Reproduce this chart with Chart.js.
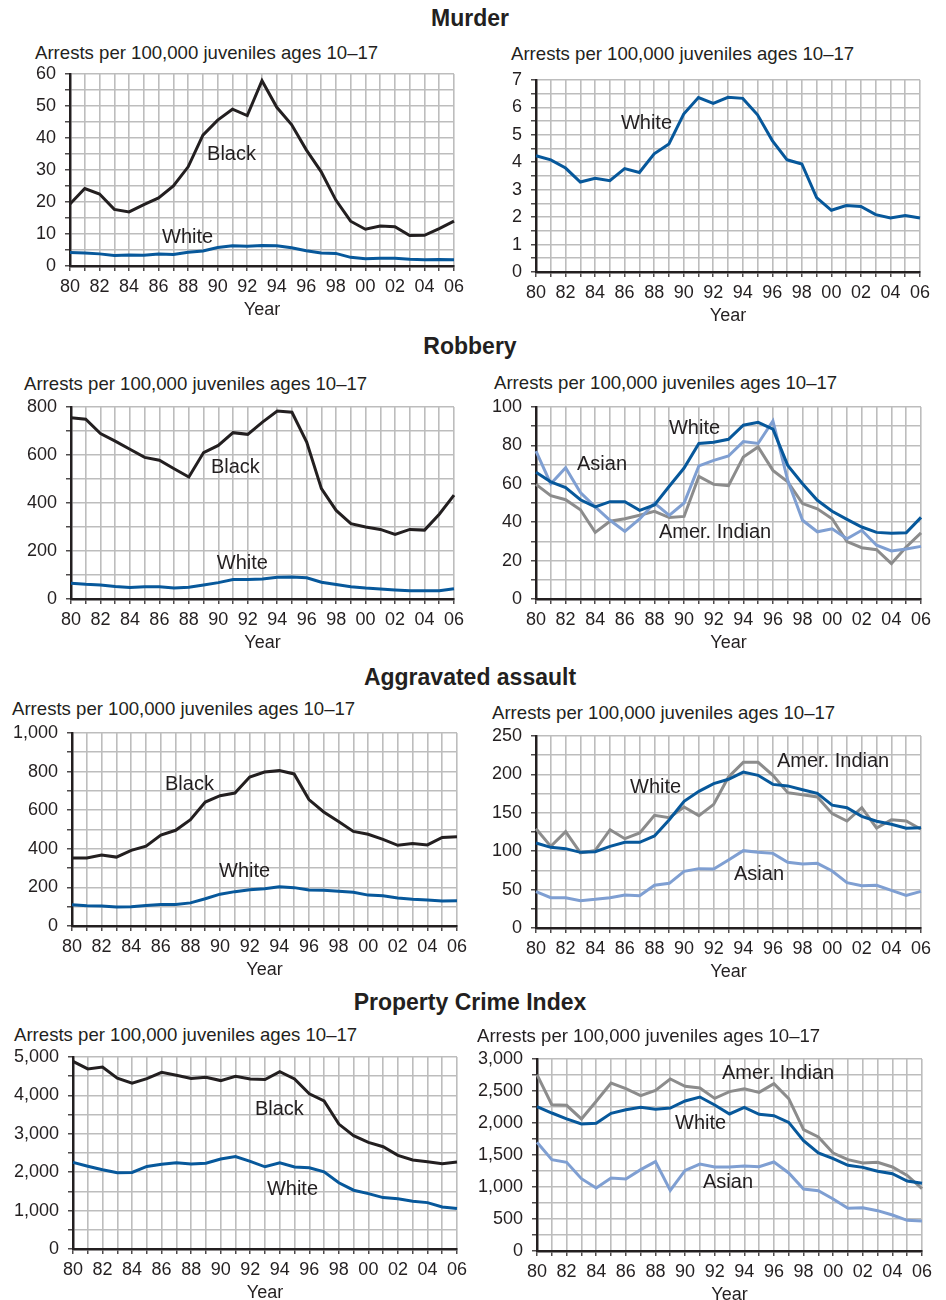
<!DOCTYPE html>
<html>
<head>
<meta charset="utf-8">
<script src="https://cdn.jsdelivr.net/npm/chart.js@4.4.0/dist/chart.umd.min.js"></script>
<style>
  body { margin: 0; background: #fff; }
  #page { position: relative; width: 946px; height: 1300px; font-family: "Liberation Sans", Arial, sans-serif; color: #231f20; }
  .section { position: absolute; left: 0; width: 940px; text-align: center; font-weight: bold; font-size: 23px; line-height: 23px; }
  .ytitle { position: absolute; font-size: 18.6px; line-height: 18px; white-space: nowrap; }
  canvas { position: absolute; }
</style>
</head>
<body>
<div id="page">
  <div class="section" style="top:7px">Murder</div>
  <div class="section" style="top:335px">Robbery</div>
  <div class="section" style="top:666px">Aggravated assault</div>
  <div class="section" style="top:991px">Property Crime Index</div>
</div>
<script>
// years 1980-2006
const years = ['80', '81', '82', '83', '84', '85', '86', '87', '88', '89', '90', '91', '92', '93',
  '94', '95', '96', '97', '98', '99', '00', '01', '02', '03', '04', '05', '06'];

// arrests per 100,000 juveniles ages 10-17
const murderBlack = [19.4, 24.2, 22.5, 17.7, 16.9, 19.2, 21.3, 25.0, 31.0, 40.9, 45.6, 49.0, 47.0, 57.9, 49.6, 44.2, 36.3, 29.5, 20.6, 14.0, 11.5, 12.5, 12.3, 9.5, 9.6, 11.7, 14.0];
const murderWhite = [4.24, 4.09, 3.79, 3.28, 3.42, 3.33, 3.77, 3.63, 4.31, 4.67, 5.76, 6.36, 6.15, 6.37, 6.33, 5.73, 4.79, 4.09, 3.94, 2.71, 2.25, 2.42, 2.39, 2.09, 1.97, 2.06, 1.97];

const robberyBlack = [755, 749, 689, 658, 624, 590, 578, 543, 508, 610, 640, 693, 686, 737, 783, 778, 654, 460, 369, 314, 300, 290, 269, 290, 287, 353, 433];
const robberyWhite = [66, 61, 58, 51.7, 48, 50.7, 50.7, 46.2, 49, 58.7, 68.2, 81, 81.6, 83.2, 90.5, 92, 88.5, 69.6, 60, 51.4, 45.7, 41.5, 37.5, 34.7, 34.2, 34.5, 42.5];
const robberyAsian = [77, 60, 68.4, 55.4, 48, 41, 35.2, 41.7, 50, 43.6, 50, 69.3, 72.2, 74.5, 82, 81, 92.7, 61.8, 41, 35, 36.6, 31.4, 35.8, 28, 25, 26, 27.4];
const robberyAmerIndian = [59.7, 53.8, 51.7, 46.5, 34.7, 40.5, 41.8, 43.6, 45.7, 42.4, 43, 63.9, 59.7, 59, 74, 79.2, 67, 61, 49.7, 47, 41.8, 29.9, 26.7, 25.7, 18.4, 27.1, 34.4];

const assaultBlack = [352, 352, 368, 357, 392, 414, 471, 496, 551, 642, 675, 689, 772, 798, 805, 788, 655, 591, 541, 490, 475, 449, 418, 427, 420, 459, 463];
const assaultWhite = [110.7, 105, 103.3, 98.5, 99.4, 106.3, 111.5, 111.5, 119.8, 141, 165, 178, 188, 193.6, 203, 198.8, 187, 185, 180, 175.3, 160, 156.7, 145.4, 139, 135, 130, 130.6];
const assaultAsian = [47.3, 39.5, 39.5, 35.6, 37.3, 39.5, 43, 42, 55.6, 58.2, 73.8, 77.3, 76.8, 88.5, 100.7, 98.5, 97.2, 85.5, 83.3, 84.2, 74.2, 59, 55.1, 55.6, 49, 42.5, 47.7];
const assaultAmerIndian = [129.3, 106.3, 125.4, 97.7, 101, 128, 116.3, 123.7, 146.7, 143.7, 157.6, 146.3, 161, 196.6, 215.7, 215.7, 198.8, 176.2, 173.6, 170.6, 148.9, 139.3, 156.7, 130.2, 141, 139.3, 128.5];

const propertyBlack = [4888, 4689, 4740, 4446, 4316, 4438, 4602, 4524, 4438, 4472, 4386, 4498, 4429, 4412, 4619, 4429, 4040, 3858, 3253, 2950, 2777, 2664, 2439, 2318, 2275, 2223, 2266];
const propertyWhite = [2255, 2156, 2063, 1984, 1995, 2151, 2208, 2245, 2214, 2234, 2344, 2406, 2281, 2141, 2245, 2135, 2115, 2010, 1724, 1531, 1443, 1339, 1307, 1245, 1208, 1094, 1057];
const propertyAsian = [1698, 1427, 1385, 1130, 984, 1141, 1125, 1271, 1396, 948, 1260, 1359, 1313, 1313, 1328, 1318, 1391, 1219, 969, 943, 813, 667, 677, 630, 563, 479, 469];
const propertyAmerIndian = [2755, 2286, 2276, 2063, 2339, 2625, 2536, 2427, 2510, 2688, 2573, 2547, 2385, 2490, 2536, 2479, 2615, 2380, 1896, 1781, 1531, 1427, 1375, 1385, 1313, 1182, 974];

const yTitle = 'Arrests per 100,000 juveniles ages 10–17';

const colors = {
  'Black': '#231f20',
  'White': '#07589b',
  'Asian': '#7f9fd2',
  'Amer. Indian': '#8c8c8c',
};

// box = plot area [left, top, right, bottom] in page px, title = [x, top]
const panels = [
  { box: [70, 74, 454, 266], yMax: 60, major: 10, title: [35, 44],
    series: [['Black', murderBlack], ['White', murderWhite]],
    labels: [['Black', 9.28, 35], ['White', 6.23, 8.8]] },
  { box: [536, 80, 920, 272], yMax: 7, major: 1, title: [511, 45],
    series: [['White', murderWhite]],
    labels: [['White', 5.75, 5.43]] },
  { box: [71, 407, 454, 599], yMax: 800, major: 200, title: [24, 375],
    series: [['Black', robberyBlack], ['White', robberyWhite]],
    labels: [['Black', 9.5, 550], ['White', 9.9, 150]] },
  { box: [536, 407, 921, 599], yMax: 100, major: 20, title: [494, 374],
    series: [['White', robberyWhite], ['Asian', robberyAsian], ['Amer. Indian', robberyAmerIndian]],
    labels: [['White', 8.98, 89], ['Asian', 2.77, 69.8], ['Amer. Indian', 8.3, 34.9]] },
  { box: [72, 733, 457, 926], yMax: 1000, major: 200, title: [12, 700],
    series: [['Black', assaultBlack], ['White', assaultWhite]],
    labels: [['Black', 6.28, 731], ['White', 9.93, 285]] },
  { box: [536, 736, 921, 928], yMax: 250, major: 50, title: [492, 704],
    series: [['White', assaultWhite], ['Asian', assaultAsian], ['Amer. Indian', assaultAmerIndian]],
    labels: [['Amer. Indian', 16.27, 217], ['White', 6.35, 183.6], ['Asian', 13.37, 70.3]] },
  { box: [73, 1057, 457, 1249], yMax: 5000, major: 1000, title: [14, 1026],
    series: [['Black', propertyBlack], ['White', propertyWhite]],
    labels: [['Black', 12.32, 3646], ['White', 13.13, 1562]] },
  { box: [537, 1059, 922, 1251], yMax: 3000, major: 500, title: [477, 1027],
    series: [['White', propertyWhite], ['Asian', propertyAsian], ['Amer. Indian', propertyAmerIndian]],
    labels: [['Amer. Indian', 12.49, 2781], ['White', 9.32, 2000], ['Asian', 11.21, 1078]] },
];

Chart.defaults.font.family = '"Liberation Sans", Arial, sans-serif';
Chart.defaults.color = '#231f20';

const YW = 64, PT = 12, PR = 24, XH = 56;
const page = document.getElementById('page');

// inline series names drawn at (year index, value)
const seriesLabels = {
  id: 'seriesLabels',
  afterDatasetsDraw(chart, args, opts) {
    const { ctx, scales: { x, y } } = chart;
    ctx.save();
    ctx.font = '20px "Liberation Sans", Arial, sans-serif';
    ctx.fillStyle = '#231f20';
    ctx.textBaseline = 'middle';
    ctx.textAlign = 'left';
    opts.items.forEach(([text, i, v]) => {
      ctx.fillText(text, x.getPixelForValue(i), y.getPixelForValue(v));
    });
    ctx.restore();
  }
};

panels.forEach((p) => {
  const [l, t, r, b] = p.box;

  const title = document.createElement('div');
  title.className = 'ytitle';
  title.style.left = p.title[0] + 'px';
  title.style.top = p.title[1] + 'px';
  title.textContent = yTitle;
  page.appendChild(title);

  const canvas = document.createElement('canvas');
  canvas.width = r - l + YW + PR;
  canvas.height = b - t + PT + XH;
  canvas.style.left = (l - YW) + 'px';
  canvas.style.top = (t - PT) + 'px';
  page.appendChild(canvas);

  const gridStyle = { color: '#bdbdbd', lineWidth: 1.6, tickColor: '#231f20', tickLength: 5, tickWidth: 1.2 };

  new Chart(canvas, {
    type: 'line',
    data: {
      labels: years,
      datasets: p.series.map(([name, values]) => ({
        label: name,
        data: values,
        borderColor: colors[name],
        borderWidth: 3,
        pointRadius: 0,
        tension: 0,
        fill: false,
        clip: 4,
      })),
    },
    options: {
      responsive: false,
      animation: false,
      devicePixelRatio: 1,
      layout: { padding: { top: PT, right: PR, bottom: 0, left: 0 } },
      plugins: {
        legend: { display: false },
        tooltip: { enabled: false },
        seriesLabels: { items: p.labels },
      },
      scales: {
        x: {
          type: 'category',
          offset: false,
          grid: gridStyle,
          border: { color: '#231f20', width: 2.5 },
          ticks: {
            autoSkip: false,
            maxRotation: 0,
            padding: 5,
            font: { size: 18 },
            callback: (v, i) => (i % 2 === 0 ? years[i] : ''),
          },
          title: { display: true, text: 'Year', font: { size: 18 }, padding: { top: 0, bottom: 1 } },
          afterFit: (scale) => { scale.height = XH; scale.paddingLeft = 0; scale.paddingRight = 0; },
        },
        y: {
          min: 0,
          max: p.yMax,
          grid: gridStyle,
          border: { color: '#231f20', width: 2.5 },
          ticks: {
            stepSize: p.major / 2,
            autoSkip: false,
            padding: 9,
            font: { size: 18 },
            callback: (v) => (Math.abs(v % p.major) < 1e-9 ? v.toLocaleString('en-US') : ''),
          },
          afterFit: (scale) => { scale.width = YW; scale.paddingTop = 0; scale.paddingBottom = 0; },
        },
      },
    },
    plugins: [seriesLabels],
  });
});
</script>
</body>
</html>
